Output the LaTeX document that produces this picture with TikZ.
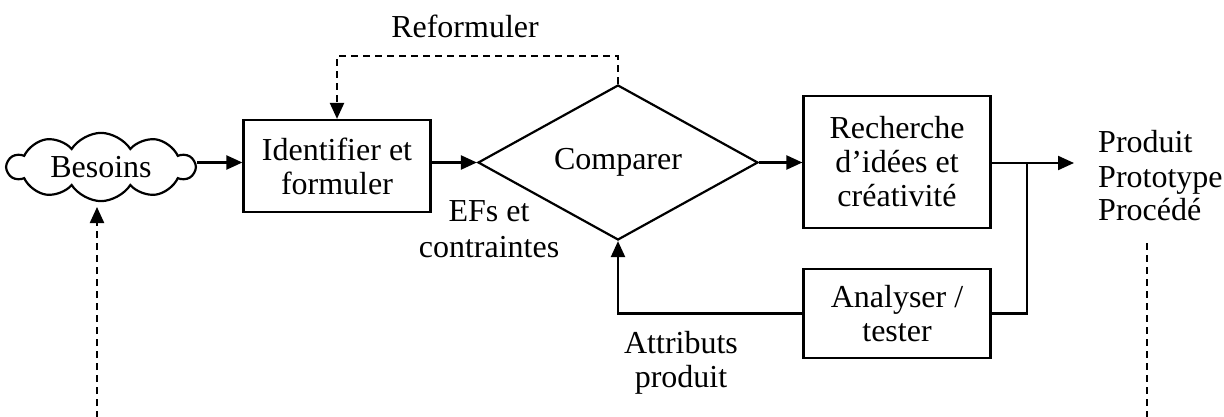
\documentclass[tikz,border=0pt]{standalone}
\usepackage{fontspec}
\setmainfont{Liberation Serif}
\usetikzlibrary{shapes.geometric,shapes.symbols,arrows.meta}
\begin{document}
\begin{tikzpicture}[x=1pt,y=-1pt,
  every node/.style={font=\fontsize{32}{34}\selectfont},
  box/.style={draw,line width=2.2pt,minimum width=187pt,align=center,inner sep=0pt},
  lbl/.style={inner sep=0pt,anchor=base},
  conn/.style={line width=2.2pt,-{Triangle[length=16pt,width=14pt]}},
  dconn/.style={conn,dash pattern=on 7pt off 5pt},
  plain/.style={line width=2.2pt},
  dplain/.style={line width=2.2pt,dash pattern=on 7pt off 5pt}]
\useasboundingbox (0,0) rectangle (1224,417);
\node[cloud,draw,line width=2.2pt,cloud puffs=10,cloud puff arc=115,aspect=3.1,minimum width=187pt,minimum height=60pt,inner sep=0pt] (bes) at (101,167) {Besoins};
\node[box,minimum height=92pt] (ident) at (337,166) {Identifier et\\formuler};
\node[diamond,draw,line width=2.2pt,aspect=1.8,minimum width=280pt,minimum height=155pt,inner sep=0pt] (comp) at (618,162.5) {Comparer};
\node[box,minimum height=132pt] (rech) at (897,162) {Recherche\\d’idées et\\créativité};
\node[box,minimum height=89pt] (anal) at (897,313.5) {Analyser /\\tester};
\node[lbl,anchor=base west] (out1) at (1098,153) {Produit};
\node[lbl,anchor=base west] (out2) at (1098,187) {Prototype};
\node[lbl,anchor=base west] (out3) at (1098,220) {Procédé};
\node[lbl] (ef1) at (489,222) {EFs et};
\node[lbl] (ef2) at (489,257) {contraintes};
\node[lbl] (attr1) at (681,353) {Attributs};
\node[lbl] (attr2) at (681,387) {produit};
\node[lbl] (ref) at (465,38) {Reformuler};
\coordinate (outarr) at (1074,163);
\coordinate (junc) at (1027,163);
\coordinate (bl) at (97,418);
\coordinate (bltop) at (97,207);
\coordinate (br) at (1147,418);
\coordinate (brtop) at (1147,243);
\coordinate (dtop) at (618,56);

\draw[conn] (bes.east |- comp.west) -- (ident.west |- comp.west);
\draw[conn] (ident.east |- comp.west) -- (comp.west);
\draw[conn] (comp.east) -- (rech.west |- comp.east);
\draw[conn] (rech.east |- outarr) -- (outarr);
\draw[plain] (junc) |- (anal.east);
\draw[conn] (anal.west) -| (comp.south);
\draw[dconn] (comp.north) -- (dtop) -| (ident.north);
\draw[dplain] (brtop) -- (br);
\draw[dconn] (bl) -- (bltop);
\end{tikzpicture}
\end{document}
